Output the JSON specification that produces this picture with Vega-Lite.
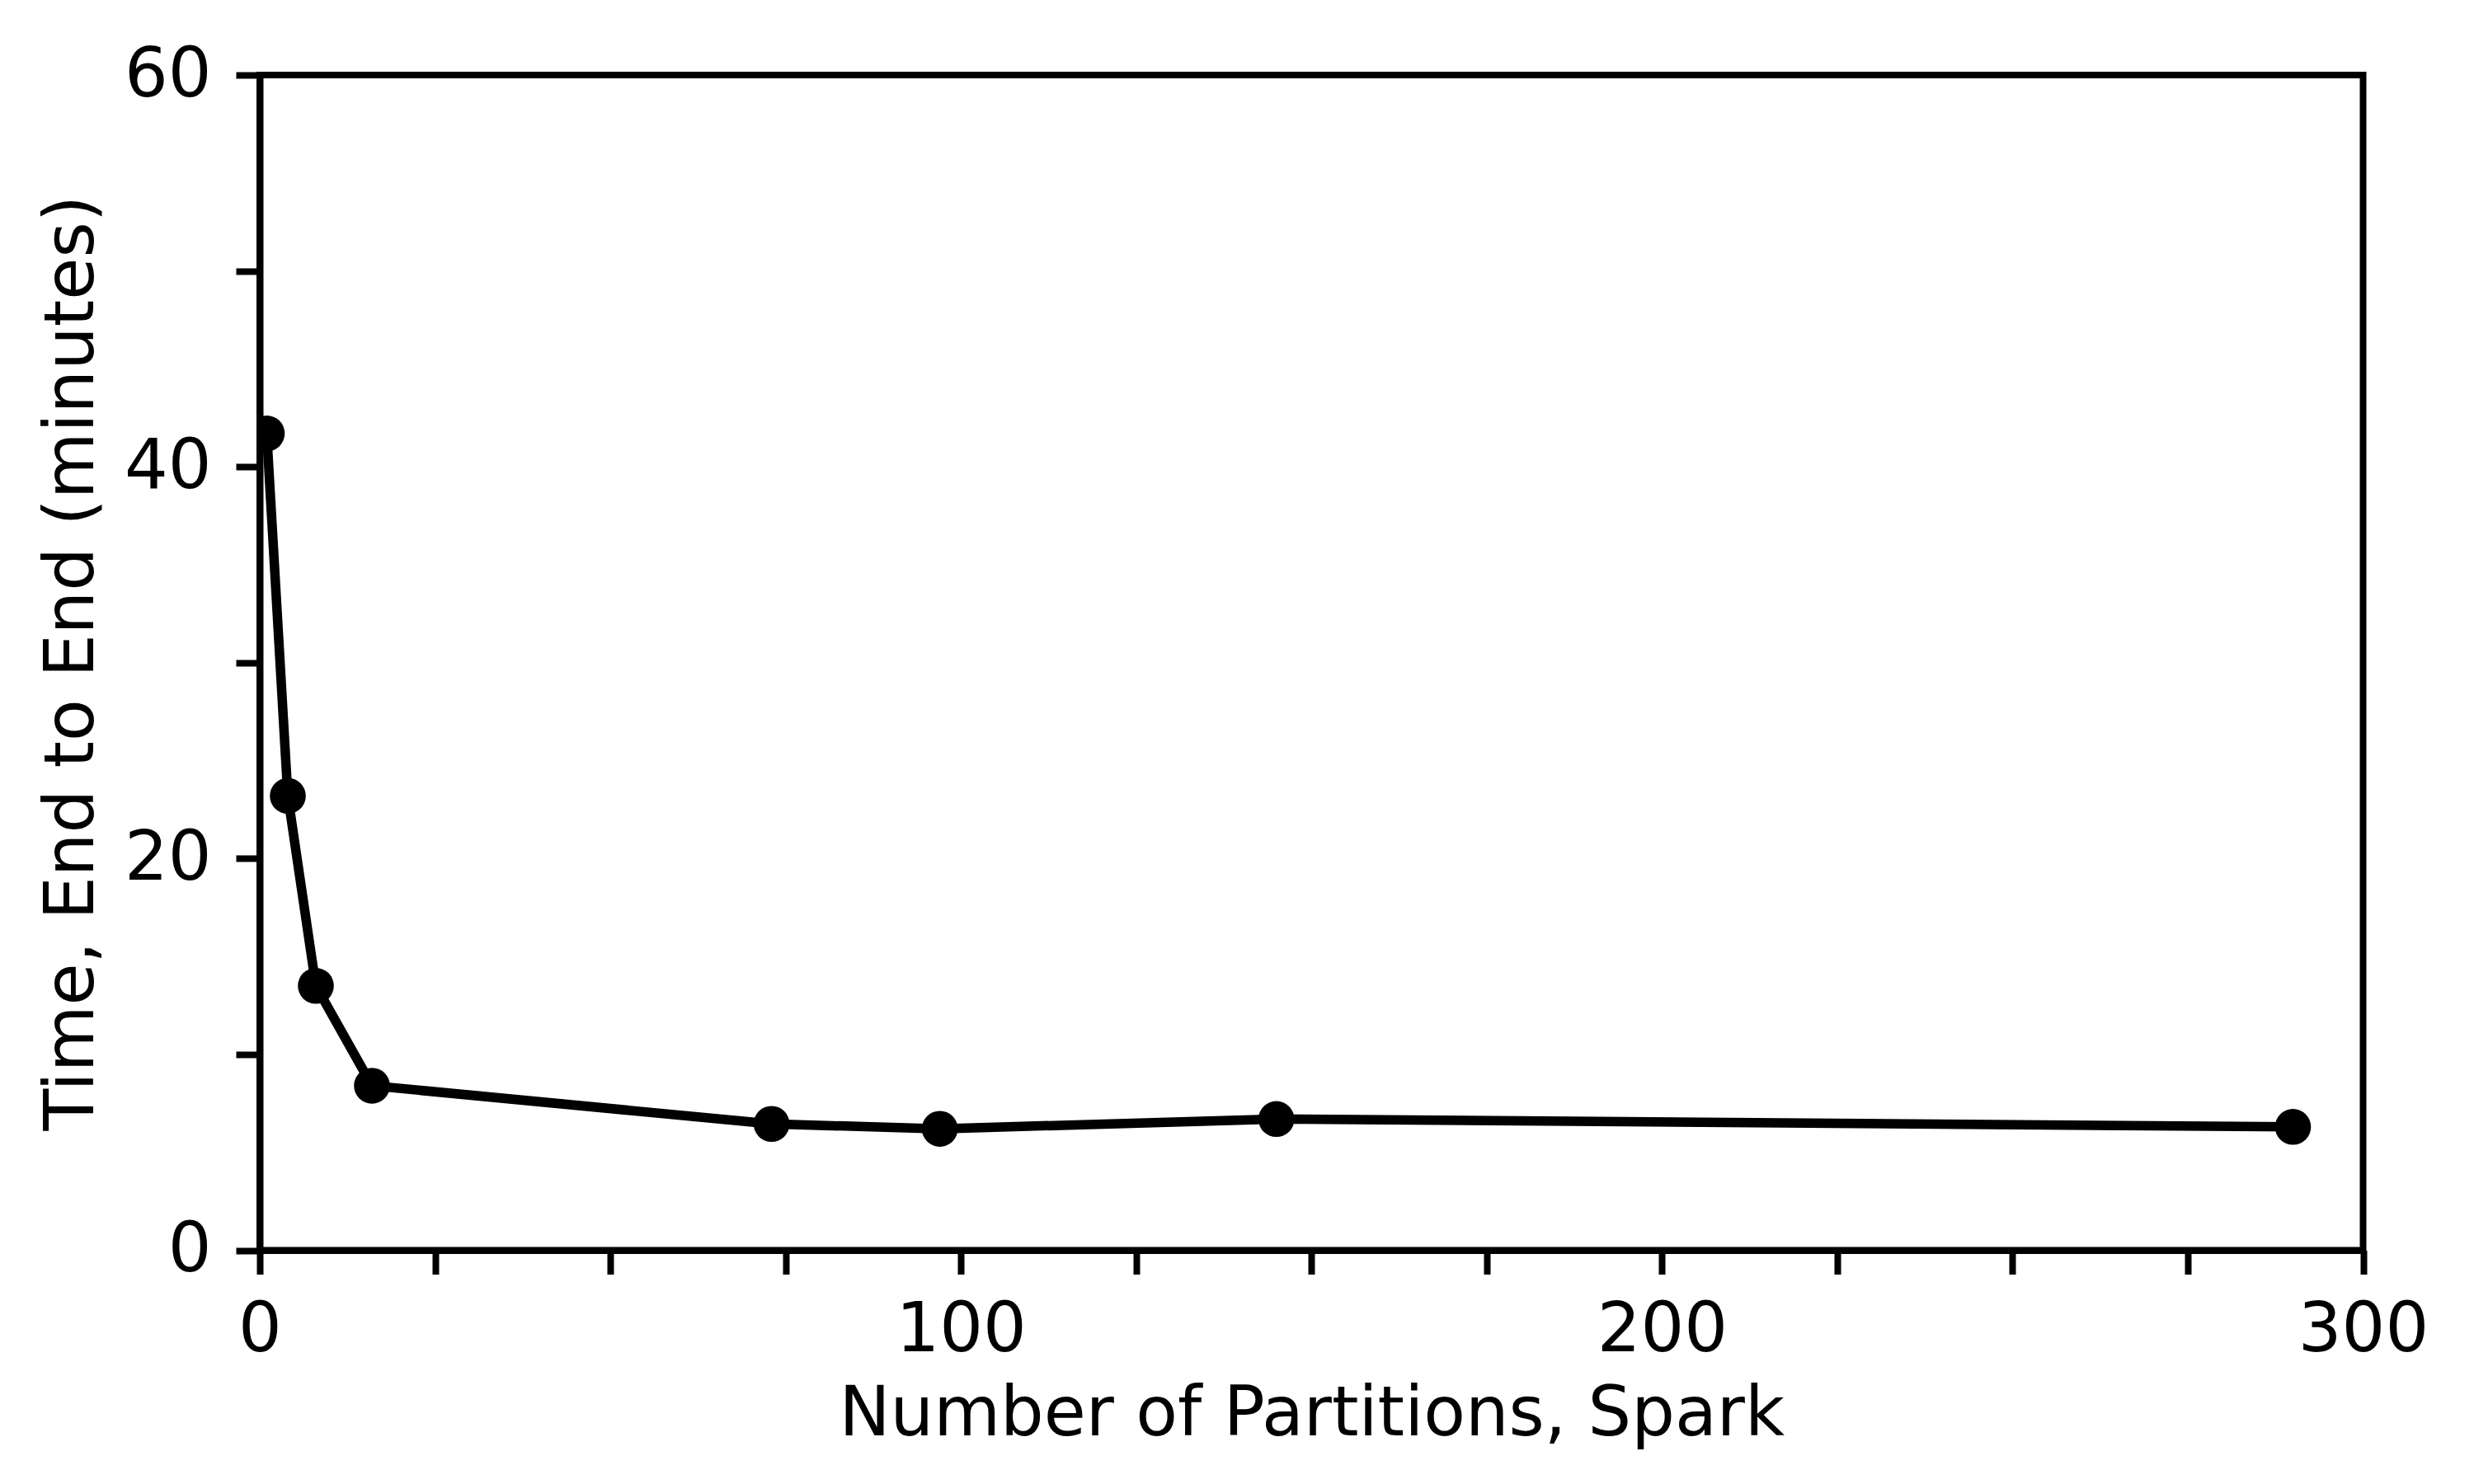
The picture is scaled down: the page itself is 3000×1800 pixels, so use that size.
{
  "$schema": "https://vega.github.io/schema/vega-lite/v6.json",
  "autosize": {"type": "none"},
  "width": 2550.5,
  "height": 1425.5,
  "padding": {"left": 315, "top": 91, "right": 134.5, "bottom": 283.5},
  "background": "white",
  "config": {
    "font": "DejaVu Sans",
    "view": {"stroke": "black", "strokeWidth": 8},
    "axis": {
      "labelFont": "DejaVu Sans",
      "titleFont": "DejaVu Sans",
      "labelFontSize": 83,
      "titleFontSize": 83,
      "labelColor": "black",
      "titleColor": "black",
      "titleFontWeight": "normal",
      "domainColor": "black",
      "domainWidth": 8,
      "tickColor": "black",
      "tickWidth": 8,
      "tickSize": 29,
      "grid": false,
      "zindex": 1
    }
  },
  "data": {
    "values": [
      {"partitions": 1, "minutes": 41.7},
      {"partitions": 4, "minutes": 23.2},
      {"partitions": 8, "minutes": 13.5},
      {"partitions": 16, "minutes": 8.4},
      {"partitions": 73, "minutes": 6.45},
      {"partitions": 97, "minutes": 6.2},
      {"partitions": 145, "minutes": 6.7},
      {"partitions": 290, "minutes": 6.3}
    ]
  },
  "encoding": {
    "x": {
      "field": "partitions",
      "type": "quantitative",
      "scale": {"domain": [0, 300], "nice": false, "zero": false},
      "axis": {
        "title": "Number of Partitions, Spark",
        "values": [0, 25, 50, 75, 100, 125, 150, 175, 200, 225, 250, 275, 300],
        "labelExpr": "datum.value % 100 === 0 ? datum.label : ''",
        "labelPadding": 27,
        "titlePadding": 19,
        "labelFlush": false,
        "labelOverlap": false
      }
    },
    "y": {
      "field": "minutes",
      "type": "quantitative",
      "scale": {"domain": [0, 60], "nice": false},
      "axis": {
        "title": "Time, End to End (minutes)",
        "values": [0, 10, 20, 30, 40, 50, 60],
        "labelExpr": "datum.value % 20 === 0 ? datum.label : ''",
        "labelPadding": 30,
        "titlePadding": 21,
        "labelFlush": false,
        "labelOverlap": false
      }
    }
  },
  "layer": [
    {
      "mark": {"type": "line", "color": "black", "strokeWidth": 11.5, "clip": true}
    },
    {
      "mark": {"type": "point", "shape": "circle", "filled": true, "color": "black", "opacity": 1, "size": 1900, "clip": true}
    }
  ]
}
